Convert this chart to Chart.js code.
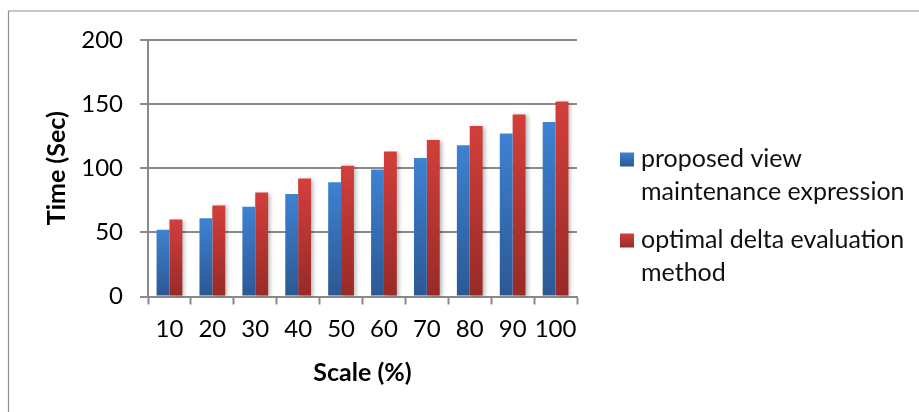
<!DOCTYPE html>
<html>
<head>
<meta charset="utf-8">
<script src="https://cdn.jsdelivr.net/npm/chart.js@4/dist/chart.umd.min.js"></script>
<style>
  html, body { margin: 0; padding: 0; background: #ffffff; }
  #wrap { position: relative; width: 919px; height: 412px; }
</style>
</head>
<body>
<div id="wrap"><canvas id="chart" width="919" height="412"></canvas></div>
<script>
// Scale steps on the x axis
const categories = ['10', '20', '30', '40', '50', '60', '70', '80', '90', '100'];

// Execution time in seconds for each approach
const proposedTimes = [52, 61, 70, 80, 89, 99, 108, 118, 127, 136];
const optimalDeltaTimes = [60, 71, 81, 92, 102, 113, 122, 133, 142, 152];

// Series names, wrapped the way the legend shows them
const seriesNames = [
  ['proposed view', 'maintenance expression'],
  ['optimal delta evaluation', 'method']
];

const yTicks = [0, 50, 100, 150, 200];

const FONT = 'Lato, "Open Sans", sans-serif';
const GRID = '#8a8a8a';

// Per-bar vertical gradient: lighter at the top, darker at the base
function barGradient(top, bottom) {
  return function (ctx) {
    const chart = ctx.chart;
    const area = chart.chartArea;
    if (!area || ctx.raw === undefined) return top;
    const y = chart.scales.y;
    const yTop = y.getPixelForValue(ctx.raw);
    const yBase = y.getPixelForValue(0);
    if (!isFinite(yTop) || !isFinite(yBase) || yTop === yBase) return top;
    const g = chart.ctx.createLinearGradient(0, yTop, 0, yBase);
    g.addColorStop(0, top);
    g.addColorStop(1, bottom);
    return g;
  };
}

const BLUE = ['#3e82d3', '#2b5894'];
const RED = ['#d23f3b', '#982a27'];

// Outer frame and white background
const framePlugin = {
  id: 'frame',
  beforeDraw(chart) {
    const c = chart.ctx;
    c.save();
    c.fillStyle = '#ffffff';
    c.fillRect(0, 0, chart.width, chart.height);
    c.strokeStyle = '#8f8f8f';
    c.lineWidth = 1.2;
    c.beginPath();
    c.moveTo(8.5, chart.height);
    c.lineTo(8.5, 11);
    c.lineTo(chart.width, 11);
    c.stroke();
    c.restore();
  }
};

// Soft drop shadow behind the bars
const shadowPlugin = {
  id: 'barShadow',
  beforeDatasetDraw(chart, args) {
    const c = chart.ctx;
    c.save();
    if (args.index === 1) {
      c.shadowColor = 'rgba(0,0,0,0.28)';
      c.shadowBlur = 4;
      c.shadowOffsetX = 2;
      c.shadowOffsetY = 1;
    }
  },
  afterDatasetDraw(chart) {
    chart.ctx.restore();
  }
};

// Legend to the right of the plot with wrapped labels
const sideLegend = {
  id: 'sideLegend',
  afterDraw(chart) {
    const c = chart.ctx;
    const colors = [BLUE, RED];
    const x0 = 620, box = 14, textX = 641, lineH = 33;
    const baselines = [167, 248];
    c.save();
    c.font = '25px ' + FONT;
    c.textBaseline = 'alphabetic';
    c.textAlign = 'left';
    seriesNames.forEach((lines, i) => {
      const b = baselines[i];
      const top = b - 14.5;
      const g = c.createLinearGradient(0, top, 0, top + box);
      g.addColorStop(0, colors[i][0]);
      g.addColorStop(1, colors[i][1]);
      c.fillStyle = g;
      c.fillRect(x0, top, box, box);
      c.fillStyle = '#111111';
      lines.forEach((t, k) => c.fillText(t, textX, b + k * lineH));
    });
    c.restore();
  }
};

new Chart(document.getElementById('chart'), {
  type: 'bar',
  data: {
    labels: categories,
    datasets: [
      {
        label: seriesNames[0].join(' '),
        data: proposedTimes,
        backgroundColor: barGradient(BLUE[0], BLUE[1]),
        borderWidth: 0,
        categoryPercentage: 0.6,
        barPercentage: 1.0
      },
      {
        label: seriesNames[1].join(' '),
        data: optimalDeltaTimes,
        backgroundColor: barGradient(RED[0], RED[1]),
        borderWidth: 0,
        categoryPercentage: 0.6,
        barPercentage: 1.0
      }
    ]
  },
  options: {
    responsive: false,
    animation: false,
    devicePixelRatio: 1,
    layout: { padding: { top: 40, right: 342, bottom: 0, left: 0 } },
    plugins: {
      legend: { display: false },
      tooltip: { enabled: false },
      title: { display: false }
    },
    scales: {
      x: {
        offset: true,
        grid: {
          display: true,
          offset: true,
          drawOnChartArea: false,
          drawTicks: true,
          tickLength: 8,
          tickWidth: 2,
          tickColor: GRID
        },
        border: { display: true, color: GRID, width: 2 },
        ticks: {
          color: '#000000',
          font: { family: FONT, size: 24 },
          padding: 10,
          maxRotation: 0,
          autoSkip: false
        },
        title: {
          display: true,
          text: 'Scale (%)',
          color: '#000000',
          font: { family: FONT, size: 25, weight: 'bold' },
          padding: { top: 0, bottom: 24 }
        },
        afterFit(scale) { scale.height = 412 - 296.5; }
      },
      y: {
        min: 0,
        max: 200,
        afterBuildTicks(scale) {
          scale.ticks = yTicks.map(v => ({ value: v }));
        },
        grid: {
          color: GRID,
          lineWidth: 2,
          drawTicks: true,
          tickLength: 8,
          tickColor: GRID,
          tickWidth: 2
        },
        border: { display: true, color: GRID, width: 2 },
        ticks: {
          color: '#000000',
          font: { family: FONT, size: 24 },
          padding: 17
        },
        title: {
          display: true,
          text: 'Time (Sec)',
          color: '#000000',
          font: { family: FONT, size: 25, weight: 'bold' },
          padding: { top: 42, bottom: 0 }
        },
        afterFit(scale) { scale.width = 148; }
      }
    }
  },
  plugins: [framePlugin, shadowPlugin, sideLegend]
});
</script>
</body>
</html>
